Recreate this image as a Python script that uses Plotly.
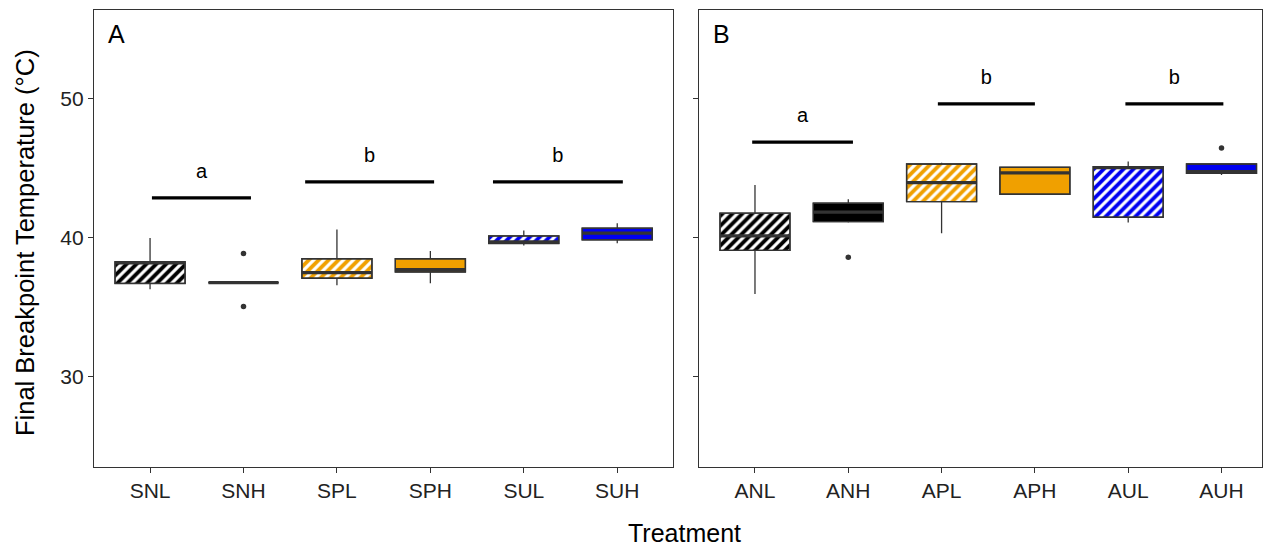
import plotly.graph_objects as go

# ---------------- data ----------------
cats_A = ["SNL", "SNH", "SPL", "SPH", "SUL", "SUH"]
lw_A = [36.30, 36.78, 36.60, 36.74, 39.45, 39.62]
q1_A = [36.72, 36.78, 37.10, 37.55, 39.60, 39.86]
med_A = [38.20, 36.78, 37.50, 37.72, 39.72, 40.34]
q3_A = [38.28, 36.78, 38.50, 38.50, 40.14, 40.70]
uw_A = [40.00, 36.78, 40.60, 39.06, 40.53, 41.06]
out_A_cat = ["SNH", "SNH"]
out_A_val = [38.87, 35.06]

cats_B = ["ANL", "ANH", "APL", "APH", "AUL", "AUH"]
lw_B = [35.97, 41.10, 40.34, 43.14, 41.10, 44.53]
q1_B = [39.10, 41.17, 42.61, 43.14, 41.49, 44.65]
med_B = [40.15, 41.85, 43.98, 44.68, 45.05, 44.77]
q3_B = [41.78, 42.50, 45.32, 45.08, 45.13, 45.32]
uw_B = [43.81, 42.78, 45.40, 45.08, 45.49, 45.32]
out_B_cat = ["ANH", "AUH"]
out_B_val = [38.61, 46.47]

# significance groups: letter, bar height, span (axis units)
sig_A_letter = ["a", "b", "b"]
sig_A_y = [42.88, 44.03, 44.03]
sig_A_x0 = [0.02, 1.66, 3.67]
sig_A_x1 = [1.08, 3.04, 5.06]
sig_B_letter = ["a", "b", "b"]
sig_B_y = [46.90, 49.64, 49.64]
sig_B_x0 = [-0.03, 1.96, 3.97]
sig_B_x1 = [1.05, 3.00, 5.02]

# ---------------- style ----------------
COL = {"N": "#000000", "P": "#F0A000", "U": "#0000F0"}
EDGE = "#333333"
W, H = 1276, 547
FONT = "Liberation Sans, Arial, sans-serif"
YR = [23.53, 56.44]

fig = go.Figure()


def panel(cats, lw, q1, med, q3, uw, out_cat, out_val, xa, ya):
    xs = list(range(len(cats)))
    colors = [COL[c[1]] for c in cats]
    shapes = ["/" if c[2] == "L" else "" for c in cats]
    fig.add_trace(go.Bar(
        x=xs, y=[b - a for a, b in zip(q1, q3)], base=q1, width=0.75,
        marker=dict(color=colors,
                    line=dict(color=EDGE, width=1.4),
                    pattern=dict(shape=shapes, fgcolor="white", fgopacity=1,
                                 bgcolor=colors, fillmode="replace",
                                 size=7, solidity=0.55)),
        xaxis=xa, yaxis=ya, showlegend=False, hoverinfo="skip"))
    fig.add_trace(go.Box(
        x=xs, q1=q1, median=med, q3=q3, lowerfence=lw, upperfence=uw,
        width=0.75, fillcolor="rgba(0,0,0,0)", line=dict(color=EDGE, width=1.3),
        whiskerwidth=0, boxpoints=False, xaxis=xa, yaxis=ya, showlegend=False))
    mx, my = [], []
    for i, m in enumerate(med):
        mx += [i - 0.375, i + 0.375, None]
        my += [m, m, None]
    fig.add_trace(go.Scatter(x=mx, y=my, mode="lines",
                             line=dict(color=EDGE, width=3.2),
                             xaxis=xa, yaxis=ya, showlegend=False, hoverinfo="skip"))
    fig.add_trace(go.Scatter(x=[cats.index(c) for c in out_cat], y=out_val, mode="markers",
                             marker=dict(color=EDGE, size=5.5),
                             xaxis=xa, yaxis=ya, showlegend=False))


def sig(letters, ys, x0s, x1s, xa, ya):
    sx, sy = [], []
    for y, a, b in zip(ys, x0s, x1s):
        sx += [a, b, None]
        sy += [y, y, None]
    fig.add_trace(go.Scatter(x=sx, y=sy, mode="lines", line=dict(color="black", width=3.2),
                             xaxis=xa, yaxis=ya, showlegend=False, hoverinfo="skip"))
    fig.add_trace(go.Scatter(x=[(a + b) / 2 for a, b in zip(x0s, x1s)],
                             y=[y + 1.8 for y in ys], mode="text", text=letters,
                             textfont=dict(size=20, color="black", family=FONT),
                             xaxis=xa, yaxis=ya, showlegend=False, hoverinfo="skip"))


panel(cats_A, lw_A, q1_A, med_A, q3_A, uw_A, out_A_cat, out_A_val, "x", "y")
panel(cats_B, lw_B, q1_B, med_B, q3_B, uw_B, out_B_cat, out_B_val, "x2", "y2")
sig(sig_A_letter, sig_A_y, sig_A_x0, sig_A_x1, "x", "y")
sig(sig_B_letter, sig_B_y, sig_B_x0, sig_B_x1, "x2", "y2")

ydom = [1 - 466.7 / H, 1 - 9.5 / H]
common_x = dict(showline=True, mirror=True, linecolor=EDGE, linewidth=1.2,
                ticks="outside", ticklen=5, tickcolor=EDGE, tickwidth=1,
                showgrid=False, zeroline=False,
                tickfont=dict(size=21, color="#222222", family=FONT))
common_y = dict(common_x)
fig.update_layout(
    width=W, height=H, margin=dict(l=0, r=0, t=0, b=0),
    paper_bgcolor="white", plot_bgcolor="white",
    barmode="overlay", boxmode="overlay",
    font=dict(family=FONT),
    xaxis=dict(domain=[94 / W, 673.3 / W], range=[-0.6, 5.6], anchor="y",
               tickvals=list(range(6)), ticktext=cats_A, **common_x),
    xaxis2=dict(domain=[699 / W, 1262 / W], range=[-0.6, 5.434], anchor="y2",
                tickvals=list(range(6)), ticktext=cats_B, **common_x),
    yaxis=dict(domain=ydom, range=YR, anchor="x", tickvals=[30, 40, 50], **common_y),
    yaxis2=dict(domain=ydom, range=YR, anchor="x2", tickvals=[30, 40, 50],
                showticklabels=False, **{k: v for k, v in common_y.items() if k != "tickfont"}),
    annotations=[
        dict(text="A", x=106 / W, y=1 - 34 / H, xref="paper", yref="paper",
             xanchor="left", yanchor="middle", showarrow=False,
             font=dict(size=25, color="black", family=FONT)),
        dict(text="B", x=711 / W, y=1 - 34 / H, xref="paper", yref="paper",
             xanchor="left", yanchor="middle", showarrow=False,
             font=dict(size=25, color="black", family=FONT)),
        dict(text="Treatment", x=684 / W, y=1 - 533 / H, xref="paper", yref="paper",
             xanchor="center", yanchor="middle", showarrow=False,
             font=dict(size=25, color="black", family=FONT)),
        dict(text="Final Breakpoint Temperature (°C)", x=25 / W, y=1 - 243 / H,
             xref="paper", yref="paper", textangle=-90,
             xanchor="center", yanchor="middle", showarrow=False,
             font=dict(size=25.5, color="black", family=FONT)),
    ],
)

fig.write_html("out.html")
